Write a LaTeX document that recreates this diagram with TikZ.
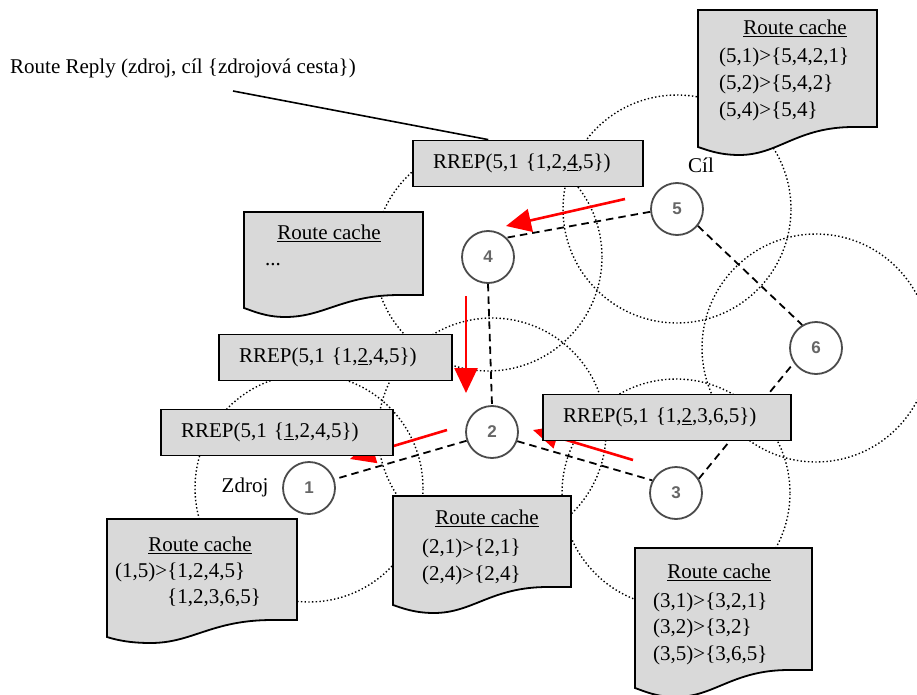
\documentclass[tikz,border=0pt]{standalone}
\usepackage{fontspec}
\setmainfont{Liberation Serif}
\setsansfont{Liberation Sans}
\usetikzlibrary{arrows.meta}
\definecolor{boxgray}{RGB}{217,217,217}
\definecolor{nodegray}{RGB}{75,75,75}
\newcommand{\cacheshape}[6]{%
  \filldraw[cachestyle] (#1,#2) -- (#3,#2) -- (#3,#4)
   -- ({#1+0.87*(#3-#1)},#4)
   .. controls ({#1+0.55*(#3-#1)},#4) and ({#1+0.45*(#3-#1)},#6) .. ({#1+0.23*(#3-#1)},#6)
   .. controls ({#1+0.12*(#3-#1)},#6) and ({#1+0.05*(#3-#1)},{#5+3}) .. (#1,#5) -- cycle;}
\tikzset{
  txt/.style={font=\fontsize{21pt}{25pt}\selectfont, inner sep=0pt},
  netnode/.style={circle, draw=nodegray, line width=1.8pt, fill=white, minimum size=52pt, inner sep=0pt,
    font=\sffamily\bfseries\fontsize{17pt}{17pt}\selectfont, text=nodegray!85},
  rangecircle/.style={line width=1.4pt, dash pattern=on 1.4pt off 2.3pt},
  link/.style={line width=1.8pt, dash pattern=on 7.5pt off 5pt},
  redarrow/.style={draw=red, line width=2.6pt, -{Triangle[length=25pt,width=23pt]}},
  rrep/.style={draw, line width=1.8pt, fill=boxgray, minimum height=46pt, align=left, inner xsep=20pt, inner ysep=0pt,
    font=\fontsize{21pt}{25pt}\selectfont},
  cachestyle/.style={draw=black, line width=1.8pt, fill=boxgray},
  pointer/.style={line width=1.6pt}
}
\begin{document}
\begin{tikzpicture}[x=1pt,y=-1pt]
\useasboundingbox (0,0) rectangle (917,695);
\fill[white] (0,0) rectangle (917,695);
% network nodes (positions)
\coordinate (c1) at (309,488);
\coordinate (c2) at (492,432);
\coordinate (c3) at (676,493);
\coordinate (c4) at (488,257);
\coordinate (c5) at (677,209);
\coordinate (c6) at (816,348);
% radio ranges
\foreach \c in {c1,c2,c3,c4,c5,c6}
  \draw[rangecircle] (\c) circle[radius=114pt];
% nodes
\node[netnode] (n1) at (c1) {1};
\node[netnode] (n2) at (c2) {2};
\node[netnode] (n3) at (c3) {3};
\node[netnode] (n4) at (c4) {4};
\node[netnode] (n5) at (c5) {5};
\node[netnode] (n6) at (c6) {6};
% links
\draw[link] (n5.186) -- (n4.46);
\draw[link] (n4.south) -- (n2.north);
\draw[link] (n2.199) -- (n1.19);
\draw[link] (n2.-20) -- (n3.152);
\draw[link] (n3.32) -- (n6.214);
\draw[link] (n5.-39) -- (n6.121);
% red arrows
\coordinate (a1s) at (625,199); \coordinate (a1e) at (506,226);
\coordinate (a2s) at (466,296); \coordinate (a2e) at (466,393);
\coordinate (a3s) at (447,430); \coordinate (a3e) at (350,459);
\coordinate (a4s) at (633,460); \coordinate (a4e) at (533,430);
\draw[redarrow] (a1s) -- (a1e);
\draw[redarrow] (a2s) -- (a2e);
\draw[redarrow] (a3s) -- (a3e);
\draw[redarrow] (a4s) -- (a4e);
% RREP boxes
\node[rrep, text width=190pt] (b1) at (528,163.5) {RREP(5,1 \{1,2,\underline{4},5\})};
\node[rrep, text width=193pt] (b2) at (335.5,357.5) {RREP(5,1 \{1,\underline{2},4,5\})};
\node[rrep, text width=192pt] (b3) at (277,432.5) {RREP(5,1 \{\underline{1},2,4,5\})};
\node[rrep, text width=208pt] (b4) at (667,417.5) {RREP(5,1 \{1,\underline{2},3,6,5\})};
% route caches
\cacheshape{698}{10}{877}{127}{147}{155}
\node[txt] (k5t) at (795,28) {\underline{Route cache}};
\node[txt, anchor=west] (k5a) at (719,57) {(5,1)>\{5,4,2,1\}};
\node[txt, anchor=west] (k5b) at (719,84) {(5,2)>\{5,4,2\}};
\node[txt, anchor=west] (k5c) at (719,111) {(5,4)>\{5,4\}};
\cacheshape{244}{212}{423}{295}{308}{317}
\node[txt] (k4t) at (329,233) {\underline{Route cache}};
\node[txt, anchor=west] (k4a) at (265,265) {...};
\cacheshape{107}{519}{297}{620}{637}{643}
\node[txt] (k1t) at (200,545) {\underline{Route cache}};
\node[txt, anchor=west] (k1a) at (115,572) {(1,5)>\{1,2,4,5\}};
\node[txt, anchor=west] (k1b) at (167,598) {\{1,2,3,6,5\}};
\cacheshape{393}{496}{571}{587}{605}{613}
\node[txt] (k2t) at (487,518) {\underline{Route cache}};
\node[txt, anchor=west] (k2a) at (422,548) {(2,1)>\{2,1\}};
\node[txt, anchor=west] (k2b) at (422,575) {(2,4)>\{2,4\}};
\cacheshape{635}{548}{812}{670}{688}{697}
\node[txt] (k3t) at (719,572) {\underline{Route cache}};
\node[txt, anchor=west] (k3a) at (653,602) {(3,1)>\{3,2,1\}};
\node[txt, anchor=west] (k3b) at (653,628) {(3,2)>\{3,2\}};
\node[txt, anchor=west] (k3c) at (653,655) {(3,5)>\{3,6,5\}};
% labels
\node[txt] (cil) at (701,165) {Cíl};
\node[txt] (zdroj) at (245,487) {Zdroj};
\node[txt, anchor=west] (rrlabel) at (10,68) {Route Reply (zdroj, cíl \{zdrojová cesta\})};
\coordinate (rrfoot) at (233,91);
\draw[pointer] (rrfoot) -- (b1.149.4);
\end{tikzpicture}
\end{document}
